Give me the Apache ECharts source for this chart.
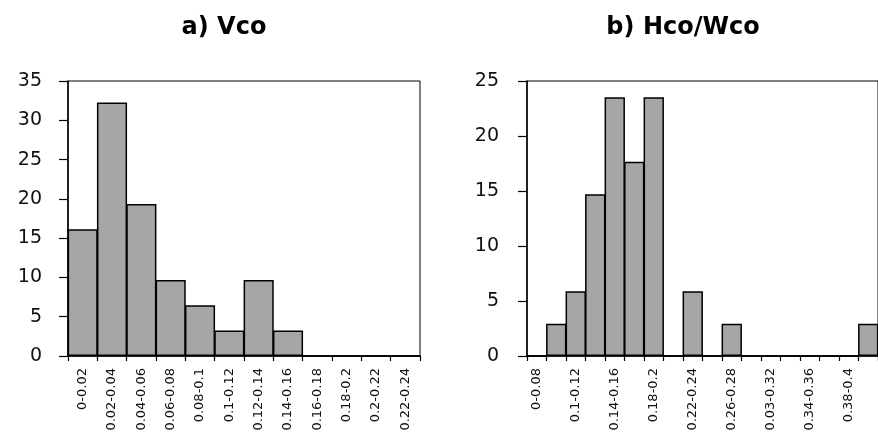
<!DOCTYPE html>
<html>
<head>
<meta charset="utf-8">
<script src="https://cdn.jsdelivr.net/npm/echarts@6/dist/echarts.min.js"></script>
<style>
html,body{margin:0;padding:0;background:#fff;}
#chart{width:878px;height:435px;}
</style>
</head>
<body>
<div id="chart"></div>
<script>
// Chart a) Vco
const vcoCategories = ['0-0.02','0.02-0.04','0.04-0.06','0.06-0.08','0.08-0.1','0.1-0.12','0.12-0.14','0.14-0.16','0.16-0.18','0.18-0.2','0.2-0.22','0.22-0.24'];
const vcoValues = [16.13, 32.26, 19.35, 9.68, 6.45, 3.23, 9.68, 3.23, 0, 0, 0, 0];
const vcoTicks = [0, 5, 10, 15, 20, 25, 30, 35];

// Chart b) Hco/Wco
const hcoCategories = ['0-0.08','0.08-0.1','0.1-0.12','0.12-0.14','0.14-0.16','0.16-0.18','0.18-0.2','0.2-0.22','0.22-0.24','0.24-0.26','0.26-0.28','0.28-0.3','0.03-0.32','0.32-0.34','0.34-0.36','0.36-0.38','0.38-0.4','0.4-0.42'];
const hcoValues = [0, 2.94, 5.88, 14.71, 23.53, 17.65, 23.53, 0, 5.88, 0, 2.94, 0, 0, 0, 0, 0, 0, 2.94];
const hcoTicks = [0, 5, 10, 15, 20, 25];

const titles = ['a) Vco', 'b) Hco/Wco'];

const chart = echarts.init(document.getElementById('chart'), null, {renderer: 'canvas'});

const barColor = '#a6a6a6';
const labelFont = 'DejaVu Sans';
const plotW = 352, plotH = 275;

function xAxis(idx, cats, labelInterval) {
  return {
    type: 'category', gridIndex: idx, data: cats,
    axisLine: {show: true, lineStyle: {color: '#000', width: 1.5}},
    axisTick: {show: true, inside: false, length: 5, interval: 0, alignWithLabel: false, lineStyle: {color: '#000', width: 1.2}},
    axisLabel: {interval: labelInterval, rotate: 90, margin: 12, color: '#111', fontFamily: labelFont, fontSize: 13},
    splitLine: {show: false}
  };
}
function yAxis(idx, ticks, margin) {
  return {
    type: 'value', gridIndex: idx, min: ticks[0], max: ticks[ticks.length - 1], interval: ticks[1] - ticks[0],
    axisLine: {show: true, lineStyle: {color: '#000', width: 1.5}},
    axisTick: {show: true, inside: false, length: 9, lineStyle: {color: '#000', width: 1.2}},
    axisLabel: {margin: margin, color: '#111', fontFamily: labelFont, fontSize: 19},
    splitLine: {show: false}
  };
}
function barSeries(idx, vals, nCats) {
  return {
    type: 'bar', xAxisIndex: idx, yAxisIndex: idx, data: vals,
    barWidth: plotW / nCats + 0.8,
    itemStyle: {color: barColor, borderColor: '#000', borderWidth: 1.5},
    silent: true, animation: false
  };
}

chart.setOption({
  animation: false,
  backgroundColor: '#fff',
  title: [
    {text: titles[0], left: 224, top: 16, padding: 0, textAlign: 'center',
     textStyle: {fontFamily: labelFont, fontWeight: 'bold', fontSize: 24, color: '#000'}},
    {text: titles[1], left: 683, top: 16, padding: 0, textAlign: 'center',
     textStyle: {fontFamily: labelFont, fontWeight: 'bold', fontSize: 24, color: '#000'}}
  ],
  grid: [
    {left: 68, top: 81, width: plotW, height: plotH, show: true, borderColor: '#000', borderWidth: 1, backgroundColor: 'transparent', containLabel: false},
    {left: 527, top: 81, width: plotW, height: plotH, show: true, borderColor: '#000', borderWidth: 1, backgroundColor: 'transparent', containLabel: false}
  ],
  xAxis: [xAxis(0, vcoCategories, 0), xAxis(1, hcoCategories, 1)],
  yAxis: [yAxis(0, vcoTicks, 26), yAxis(1, hcoTicks, 28)],
  series: [barSeries(0, vcoValues, vcoCategories.length), barSeries(1, hcoValues, hcoCategories.length)]
});
</script>
</body>
</html>
